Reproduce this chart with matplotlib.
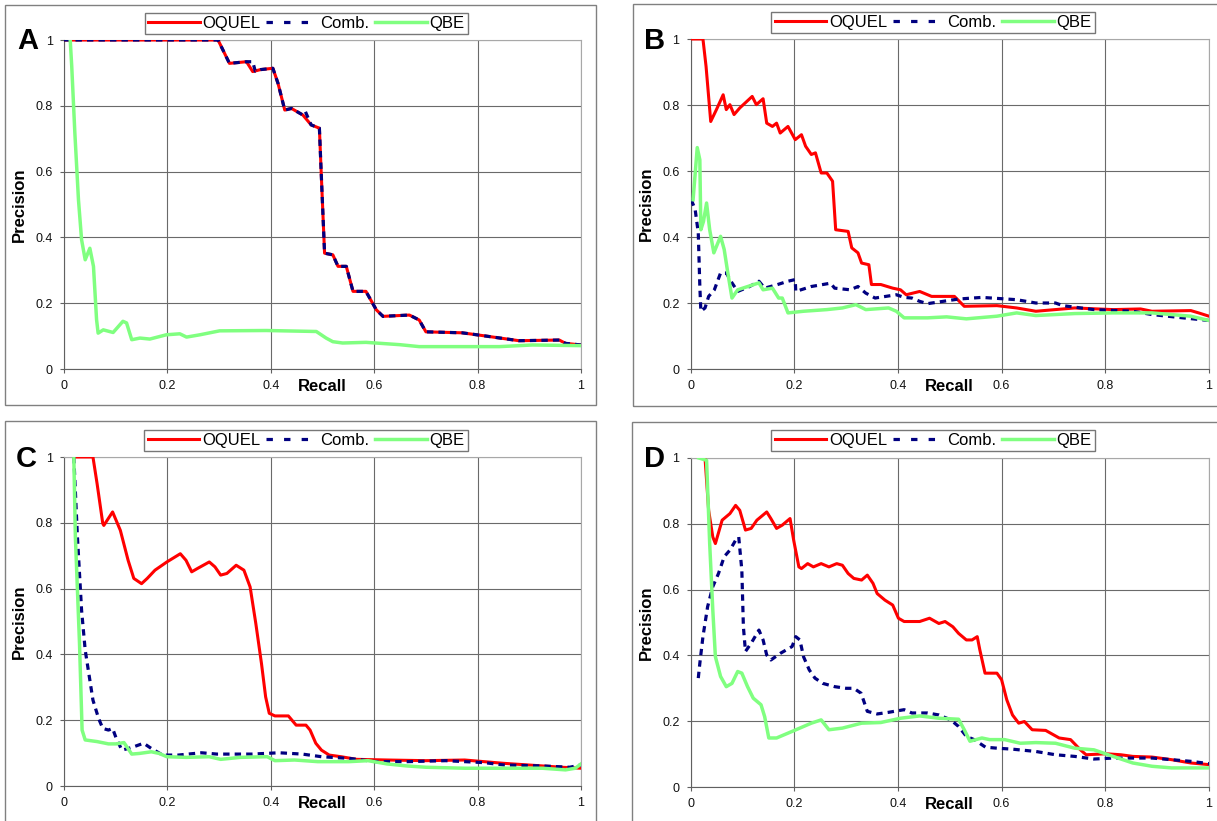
import matplotlib
matplotlib.use("Agg")
import matplotlib.pyplot as plt
from matplotlib.patches import Rectangle
from matplotlib.lines import Line2D
from matplotlib.ticker import FuncFormatter, MultipleLocator

plt.rcParams["font.family"] = ["Liberation Sans", "DejaVu Sans"]

# ---- data (recall, precision) ----
a_oquel_r = [0, 0.298, 0.32, 0.353, 0.365, 0.38, 0.404, 0.414, 0.427, 0.44, 0.462, 0.478, 0.494, 0.497,
             0.504, 0.52, 0.53, 0.546, 0.559, 0.584, 0.604, 0.617, 0.668, 0.687, 0.700, 0.770, 0.803,
             0.880, 0.958, 0.970, 1.0]
a_oquel_p = [1.0, 1.0, 0.929, 0.934, 0.904, 0.91, 0.914, 0.868, 0.787, 0.792, 0.772, 0.742, 0.732, 0.615,
             0.352, 0.347, 0.312, 0.312, 0.236, 0.236, 0.18, 0.16, 0.164, 0.149, 0.113, 0.110, 0.103,
             0.086, 0.088, 0.078, 0.073]
a_comb_r = [0, 0.298, 0.32, 0.353, 0.365, 0.37, 0.38, 0.404, 0.414, 0.427, 0.44, 0.462, 0.467, 0.478,
            0.494, 0.497, 0.504, 0.52, 0.53, 0.546, 0.559, 0.584, 0.604, 0.617, 0.668, 0.687, 0.700,
            0.770, 0.803, 0.880, 0.958, 0.970, 1.0]
a_comb_p = [1.0, 1.0, 0.929, 0.934, 0.934, 0.905, 0.91, 0.914, 0.868, 0.787, 0.792, 0.772, 0.782, 0.742,
            0.732, 0.615, 0.352, 0.347, 0.312, 0.312, 0.236, 0.236, 0.18, 0.16, 0.164, 0.149, 0.113,
            0.110, 0.103, 0.086, 0.088, 0.078, 0.073]
a_qbe_r = [0.012, 0.015, 0.021, 0.028, 0.034, 0.041, 0.05, 0.057, 0.063, 0.066, 0.076, 0.095, 0.114,
           0.121, 0.131, 0.147, 0.166, 0.198, 0.224, 0.237, 0.263, 0.301, 0.391, 0.488, 0.507, 0.52,
           0.539, 0.584, 0.649, 0.687, 0.842, 0.906, 1.0]
a_qbe_p = [1.0, 0.919, 0.717, 0.514, 0.393, 0.332, 0.367, 0.312, 0.15, 0.109, 0.119, 0.111, 0.145,
           0.14, 0.089, 0.094, 0.091, 0.104, 0.107, 0.097, 0.104, 0.116, 0.117, 0.114, 0.094, 0.083,
           0.079, 0.081, 0.074, 0.068, 0.068, 0.073, 0.071]

b_oquel_r = [0, 0.024, 0.03, 0.039, 0.05, 0.063, 0.069, 0.076, 0.084, 0.095, 0.119, 0.127, 0.14, 0.147,
             0.158, 0.166, 0.173, 0.188, 0.202, 0.214, 0.222, 0.233, 0.241, 0.252, 0.263, 0.274, 0.28,
             0.304, 0.311, 0.323, 0.33, 0.344, 0.349, 0.367, 0.39, 0.405, 0.416, 0.442, 0.465, 0.509,
             0.528, 0.591, 0.629, 0.666, 0.741, 0.815, 0.868, 0.89, 0.965, 0.98, 1.0]
b_oquel_p = [1.0, 1.0, 0.917, 0.75, 0.786, 0.831, 0.786, 0.801, 0.771, 0.791, 0.826, 0.801, 0.819, 0.745,
             0.735, 0.745, 0.715, 0.735, 0.695, 0.71, 0.675, 0.65, 0.655, 0.594, 0.594, 0.569, 0.422,
             0.417, 0.367, 0.352, 0.321, 0.316, 0.256, 0.256, 0.245, 0.24, 0.225, 0.235, 0.22, 0.22,
             0.19, 0.192, 0.185, 0.175, 0.185, 0.18, 0.182, 0.175, 0.177, 0.17, 0.16]
b_comb_r = [0.0015, 0.009, 0.015, 0.018, 0.02, 0.028, 0.035, 0.046, 0.058, 0.069, 0.08, 0.091, 0.114,
            0.132, 0.143, 0.166, 0.188, 0.202, 0.203, 0.233, 0.27, 0.278, 0.308, 0.323, 0.338, 0.356,
            0.397, 0.412, 0.427, 0.442, 0.457, 0.517, 0.562, 0.629, 0.666, 0.704, 0.718, 0.778, 0.853,
            0.89, 0.95, 1.0]
b_comb_p = [0.513, 0.483, 0.412, 0.25, 0.175, 0.185, 0.22, 0.24, 0.291, 0.291, 0.261, 0.235, 0.25,
            0.266, 0.245, 0.255, 0.266, 0.271, 0.235, 0.25, 0.26, 0.245, 0.24, 0.25, 0.23, 0.215,
            0.225, 0.217, 0.215, 0.205, 0.198, 0.212, 0.217, 0.21, 0.2, 0.2, 0.192, 0.18, 0.175,
            0.165, 0.155, 0.147]
b_qbe_r = [0.005, 0.013, 0.018, 0.02, 0.025, 0.031, 0.037, 0.045, 0.058, 0.065, 0.072, 0.08, 0.091,
           0.132, 0.14, 0.158, 0.17, 0.177, 0.188, 0.218, 0.263, 0.293, 0.319, 0.338, 0.382, 0.397,
           0.412, 0.457, 0.494, 0.532, 0.591, 0.629, 0.666, 0.741, 0.815, 0.89, 0.965, 1.0]
b_qbe_p = [0.513, 0.671, 0.634, 0.422, 0.447, 0.503, 0.422, 0.352, 0.402, 0.362, 0.291, 0.215, 0.24,
           0.261, 0.24, 0.245, 0.215, 0.215, 0.17, 0.175, 0.18, 0.185, 0.195, 0.18, 0.185, 0.175,
           0.155, 0.155, 0.158, 0.152, 0.16, 0.17, 0.162, 0.168, 0.17, 0.17, 0.16, 0.147]

c_oquel_r = [0.022, 0.056, 0.064, 0.075, 0.077, 0.094, 0.109, 0.124, 0.135, 0.15, 0.161, 0.176, 0.199,
             0.225, 0.236, 0.247, 0.258, 0.281, 0.292, 0.303, 0.315, 0.333, 0.348, 0.36, 0.371, 0.382,
             0.39, 0.397, 0.408, 0.434, 0.449, 0.468, 0.476, 0.487, 0.498, 0.513, 0.536, 0.566, 0.625,
             0.7, 0.775, 0.85, 0.925, 0.963, 1.0]
c_oquel_p = [1.0, 1.0, 0.919, 0.798, 0.792, 0.833, 0.777, 0.686, 0.631, 0.615, 0.631, 0.656, 0.681,
             0.706, 0.686, 0.651, 0.661, 0.681, 0.666, 0.641, 0.646, 0.671, 0.656, 0.605, 0.494, 0.372,
             0.271, 0.221, 0.213, 0.213, 0.185, 0.185, 0.17, 0.13, 0.109, 0.094, 0.089, 0.081, 0.079,
             0.077, 0.079, 0.069, 0.061, 0.057, 0.054]
c_comb_r = [0.019, 0.026, 0.034, 0.041, 0.049, 0.056, 0.067, 0.075, 0.086, 0.094, 0.101, 0.112, 0.131,
            0.154, 0.169, 0.191, 0.221, 0.266, 0.296, 0.363, 0.416, 0.461, 0.498, 0.551, 0.603, 0.663,
            0.738, 0.813, 0.85, 0.925, 0.978, 1.0]
c_comb_p = [1.0, 0.757, 0.534, 0.413, 0.332, 0.261, 0.205, 0.175, 0.17, 0.175, 0.145, 0.109, 0.117,
            0.13, 0.114, 0.094, 0.094, 0.101, 0.097, 0.097, 0.101, 0.097, 0.089, 0.084, 0.074, 0.074,
            0.077, 0.071, 0.064, 0.061, 0.057, 0.064]
c_qbe_r = [0.019, 0.022, 0.03, 0.035, 0.041, 0.064, 0.086, 0.101, 0.116, 0.131, 0.146, 0.169, 0.184,
           0.199, 0.236, 0.281, 0.303, 0.341, 0.393, 0.408, 0.446, 0.491, 0.551, 0.588, 0.625, 0.663,
           0.7, 0.775, 0.85, 0.925, 0.97, 0.989, 1.0]
c_qbe_p = [1.0, 0.757, 0.433, 0.17, 0.14, 0.135, 0.128, 0.128, 0.132, 0.097, 0.099, 0.104, 0.099,
           0.089, 0.087, 0.089, 0.081, 0.087, 0.089, 0.077, 0.079, 0.074, 0.074, 0.077, 0.067, 0.061,
           0.057, 0.054, 0.054, 0.054, 0.049, 0.054, 0.067]

d_oquel_r = [0.028, 0.035, 0.043, 0.048, 0.061, 0.076, 0.087, 0.095, 0.106, 0.117, 0.128, 0.147, 0.155,
             0.166, 0.177, 0.192, 0.199, 0.209, 0.214, 0.226, 0.237, 0.252, 0.267, 0.282, 0.293, 0.304,
             0.315, 0.33, 0.341, 0.352, 0.36, 0.375, 0.39, 0.401, 0.412, 0.442, 0.461, 0.479, 0.491,
             0.506, 0.517, 0.532, 0.543, 0.553, 0.558, 0.568, 0.591, 0.6, 0.61, 0.621, 0.633, 0.644,
             0.659, 0.685, 0.711, 0.733, 0.752, 0.763, 0.801, 0.83, 0.853, 0.89, 0.928, 0.965, 1.0]
d_oquel_p = [1.0, 0.841, 0.76, 0.74, 0.811, 0.831, 0.856, 0.841, 0.781, 0.786, 0.811, 0.836, 0.816,
             0.786, 0.796, 0.816, 0.75, 0.669, 0.664, 0.679, 0.669, 0.679, 0.669, 0.679, 0.674, 0.649,
             0.634, 0.629, 0.644, 0.619, 0.588, 0.568, 0.553, 0.513, 0.503, 0.503, 0.513, 0.497, 0.503,
             0.487, 0.467, 0.447, 0.447, 0.457, 0.417, 0.346, 0.346, 0.326, 0.265, 0.219, 0.194, 0.199,
             0.174, 0.172, 0.149, 0.144, 0.113, 0.098, 0.101, 0.098, 0.093, 0.091, 0.083, 0.073, 0.068]
d_comb_r = [0.015, 0.018, 0.024, 0.033, 0.043, 0.054, 0.065, 0.076, 0.087, 0.093, 0.099, 0.102, 0.106,
            0.117, 0.132, 0.14, 0.147, 0.155, 0.173, 0.196, 0.203, 0.211, 0.218, 0.229, 0.24, 0.255,
            0.278, 0.3, 0.315, 0.329, 0.341, 0.36, 0.382, 0.412, 0.427, 0.457, 0.479, 0.502, 0.517,
            0.532, 0.547, 0.569, 0.591, 0.621, 0.666, 0.704, 0.741, 0.778, 0.815, 0.89, 0.928, 0.965, 1.0]
d_comb_p = [0.331, 0.376, 0.457, 0.548, 0.609, 0.649, 0.7, 0.72, 0.75, 0.76, 0.659, 0.487, 0.412,
            0.437, 0.477, 0.447, 0.401, 0.386, 0.406, 0.427, 0.457, 0.447, 0.396, 0.356, 0.331, 0.315,
            0.305, 0.3, 0.3, 0.285, 0.23, 0.222, 0.227, 0.235, 0.225, 0.225, 0.219, 0.204, 0.184,
            0.154, 0.144, 0.121, 0.118, 0.115, 0.108, 0.098, 0.093, 0.085, 0.088, 0.088, 0.083, 0.078, 0.071]
d_qbe_r = [0.016, 0.031, 0.037, 0.043, 0.048, 0.058, 0.069, 0.08, 0.091, 0.099, 0.11, 0.121, 0.136,
           0.143, 0.151, 0.166, 0.196, 0.233, 0.252, 0.267, 0.293, 0.33, 0.367, 0.405, 0.442, 0.479,
           0.517, 0.528, 0.539, 0.562, 0.577, 0.606, 0.636, 0.666, 0.704, 0.741, 0.778, 0.815, 0.853,
           0.89, 0.928, 1.0]
d_qbe_p = [1.0, 0.993, 0.74, 0.538, 0.396, 0.336, 0.305, 0.315, 0.351, 0.346, 0.305, 0.27, 0.25,
           0.214, 0.149, 0.149, 0.169, 0.194, 0.204, 0.174, 0.179, 0.194, 0.196, 0.209, 0.216, 0.209,
           0.206, 0.174, 0.139, 0.149, 0.144, 0.144, 0.133, 0.135, 0.133, 0.118, 0.113, 0.093, 0.073,
           0.063, 0.058, 0.058]

series_names = ["OQUEL", "Comb.", "QBE"]
panel_letters = ["A", "B", "C", "D"]

W, H = 1217, 821
RED, NAVY, GREEN = "#ff0000", "#000080", "#80ff80"

fig = plt.figure(figsize=(W / 100, H / 100), dpi=100)


def fx(px):
    return px / W


def fy(py):
    return 1 - py / H


# layout in pixels: axes (left, top, right, bottom), frame, legend centre, letter pos
layout = {
    "A": dict(ax=(64, 40, 581, 369), frame=(5, 4.5, 596, 405), leg=(306.5, 23.5), let=(17, 49)),
    "B": dict(ax=(690.5, 39, 1209, 369), frame=(632.5, 4, 1230, 405.5), leg=(933, 22.5), let=(644, 49)),
    "C": dict(ax=(64, 457, 581, 786), frame=(5, 421.5, 596, 840), leg=(306, 440.5), let=(15.5, 467)),
    "D": dict(ax=(690.5, 458, 1209, 787), frame=(632, 422, 1230, 840), leg=(933, 440.5), let=(644, 467)),
}

panels = {
    "A": ((a_oquel_r, a_oquel_p), (a_comb_r, a_comb_p), (a_qbe_r, a_qbe_p)),
    "B": ((b_oquel_r, b_oquel_p), (b_comb_r, b_comb_p), (b_qbe_r, b_qbe_p)),
    "C": ((c_oquel_r, c_oquel_p), (c_comb_r, c_comb_p), (c_qbe_r, c_qbe_p)),
    "D": ((d_oquel_r, d_oquel_p), (d_comb_r, d_comb_p), (d_qbe_r, d_qbe_p)),
}

fmt = FuncFormatter(lambda v, _: f"{v:g}")

for letter in panel_letters:
    lay = layout[letter]
    l, t, r, b = lay["ax"]
    ax = fig.add_axes([fx(l), fy(b), (r - l) / W, (b - t) / H])

    # outer box around each panel
    x0, y0, x1, y1 = lay["frame"]
    fig.add_artist(Rectangle((fx(x0), fy(y1)), (x1 - x0) / W, (y1 - y0) / H,
                             transform=fig.transFigure, fill=False,
                             edgecolor="#808080", lw=1.0))

    (o_r, o_p), (c_r, c_p), (q_r, q_p) = panels[letter]
    ax.plot(o_r, o_p, color=RED, lw=2.2, solid_joinstyle="round", zorder=3)
    ax.plot(c_r, c_p, color=NAVY, lw=2.3, dashes=(2, 1.6), zorder=4)
    ax.plot(q_r, q_p, color=GREEN, lw=2.5, solid_joinstyle="round", zorder=5)

    ax.set_xlim(0, 1)
    ax.set_ylim(0, 1)
    ax.xaxis.set_major_locator(MultipleLocator(0.2))
    ax.yaxis.set_major_locator(MultipleLocator(0.2))
    ax.xaxis.set_major_formatter(fmt)
    ax.yaxis.set_major_formatter(fmt)
    ax.grid(True, color="#6a6a6a", lw=0.8)
    ax.set_axisbelow(True)
    for side in ("left", "bottom"):
        ax.spines[side].set_color("#606060")
    for side in ("top", "right"):
        ax.spines[side].set_color("#a8a8a8")
    ax.tick_params(direction="out", length=3, width=0.8, color="#606060",
                   labelsize=9, labelcolor="#111111")
    ax.tick_params(axis="x", pad=5)
    ax.tick_params(axis="y", pad=5)

    ax.set_ylabel("Precision", fontsize=12, fontweight="bold")
    ax.yaxis.set_label_coords(-37 / (r - l), 0.5)
    ax.set_xlabel("Recall", fontsize=12, fontweight="bold", va="baseline")
    ax.xaxis.set_label_coords(0.5, -22 / (b - t))

    handles = [Line2D([], [], color=RED, lw=2.2),
               Line2D([], [], color=NAVY, lw=2.3, dashes=(2, 3.5)),
               Line2D([], [], color=GREEN, lw=2.5)]
    cx, cy = lay["leg"]
    leg = fig.legend(handles, series_names, loc="center", bbox_to_anchor=(fx(cx), fy(cy)),
                     ncol=3, fontsize=12, frameon=True, fancybox=False,
                     handlelength=3.1, handletextpad=0.15, columnspacing=0.35,
                     borderpad=0.2, borderaxespad=0)
    leg.get_frame().set_edgecolor("#555555")
    leg.get_frame().set_linewidth(1.0)

    lx, ly = lay["let"]
    fig.text(fx(lx), fy(ly), letter, fontsize=21, fontweight="bold",
             ha="left", va="baseline")

fig.savefig("out.png", dpi=100)
